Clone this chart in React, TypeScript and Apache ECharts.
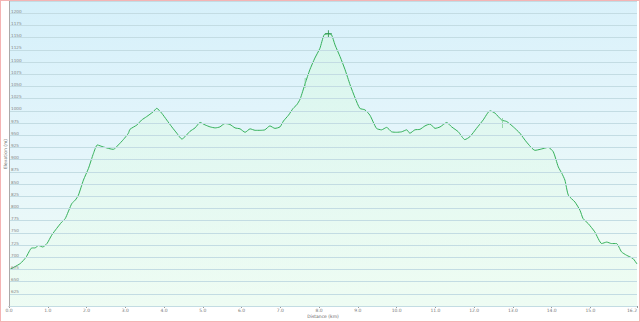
import React, { useEffect, useRef } from "react";
import * as echarts from "echarts";

const distanceKm = [
  0.0, 0.29, 0.44, 0.59, 0.67, 0.76, 0.87, 0.98, 1.1, 1.23, 1.36, 1.45, 1.62, 1.71, 1.79, 1.92,
  2.05, 2.18, 2.28, 2.43, 2.69, 2.82, 2.95, 3.08, 3.12, 3.3, 3.42, 3.55, 3.72, 3.81, 3.94, 4.07,
  4.2, 4.33, 4.46, 4.54, 4.67, 4.8, 4.93, 5.06, 5.19, 5.32, 5.44, 5.57, 5.7, 5.83, 5.96, 6.09,
  6.22, 6.35, 6.48, 6.6, 6.73, 6.86, 6.99, 7.08, 7.21, 7.33, 7.42, 7.51, 7.64, 7.76, 7.89, 8.02,
  8.13, 8.24, 8.32, 8.41, 8.54, 8.67, 8.8, 8.93, 9.05, 9.18, 9.31, 9.48, 9.61, 9.74, 9.87, 10.0,
  10.13, 10.26, 10.34, 10.47, 10.6, 10.73, 10.86, 10.99, 11.12, 11.29, 11.42, 11.59, 11.76, 11.89,
  12.06, 12.23, 12.41, 12.54, 12.71, 12.84, 13.01, 13.18, 13.35, 13.57, 13.7, 13.91, 14.04, 14.17,
  14.26, 14.34, 14.43, 14.6, 14.73, 14.81, 14.94, 15.11, 15.29, 15.42, 15.54, 15.67, 15.8, 15.93,
  16.1, 16.2,
];

const elevationM = [
  674, 687, 700, 719, 719, 724, 721, 728, 745, 759, 772, 779, 810, 817, 827, 858,
  882, 913, 930, 926, 921, 930, 941, 954, 962, 971, 981, 988, 998, 1005, 995, 981,
  967, 954, 942, 947, 958, 965, 976, 971, 967, 965, 967, 974, 972, 965, 963, 956,
  963, 960, 960, 961, 969, 964, 967, 979, 991, 1005, 1012, 1024, 1056, 1084, 1108, 1128,
  1156, 1158, 1156, 1135, 1111, 1084, 1053, 1026, 1005, 1002, 991, 964, 961, 966, 957, 956,
  957, 961, 954, 961, 962, 969, 973, 964, 967, 976, 967, 957, 941, 947,
  964, 981, 1000, 995, 981, 978, 967, 954, 936, 919, 921, 925, 916, 885,
  872, 858, 827, 813, 796, 779, 769, 752, 728, 731, 728, 728, 711, 704,
  697, 686,
];

const xTickValues = [0, 1, 2, 3, 4, 5, 6, 7, 8, 9, 10, 11, 12, 13, 14, 15, 16.2];

const xAxisTitle = "Distance (km)";
const yAxisTitle = "Elevation (m)";

const markerPeak = [[8.24, 1158]];
const markerTicks = [[12.73, 975], [7.64, 1057]];

export default function App() {
  const ref = useRef<HTMLDivElement>(null);

  useEffect(() => {
    document.body.style.margin = "0";
    if (!ref.current) return;
    const chart = echarts.init(ref.current, undefined, { renderer: "svg" });
    const font = "DejaVu Sans";
    chart.setOption({
      animation: false,
      backgroundColor: "#ffffff",
      grid: {
        left: 9,
        right: 3,
        top: 1,
        bottom: 16,
        outerBoundsMode: "none",
        containLabel: false,
        show: true,
        borderWidth: 0,
        backgroundColor: new echarts.graphic.LinearGradient(0, 0, 0.15, 1, [
          { offset: 0, color: "#d5f0fa" },
          { offset: 0.5, color: "#e4f5fb" },
          { offset: 1, color: "#f1fcf5" },
        ]),
      },
      graphic: [
        {
          type: "text",
          x: 323,
          y: 316,
          style: {
            text: xAxisTitle,
            fontSize: 4.5,
            fill: "#666",
            fontFamily: font,
            align: "center",
            verticalAlign: "middle",
          },
        },
        {
          type: "text",
          x: 5,
          y: 154,
          rotation: Math.PI / 2,
          style: {
            text: yAxisTitle,
            fontSize: 4.5,
            fill: "#666",
            fontFamily: font,
            align: "center",
            verticalAlign: "middle",
          },
        },
      ],
      xAxis: {
        type: "value",
        min: 0,
        max: 16.2,
        interval: 1,
        axisLine: { show: true, lineStyle: { color: "#999", width: 1 } },
        axisTick: { show: true, length: 2, lineStyle: { color: "#999" }, customValues: xTickValues },
        axisLabel: {
          fontSize: 4.5,
          color: "#777",
          fontFamily: font,
          margin: 2,
          customValues: xTickValues,
          alignMaxLabel: "right",
          formatter: (v: number) => v.toFixed(1),
        },
        splitLine: { show: false },
      },
      yAxis: {
        type: "value",
        min: 600,
        max: 1225,
        interval: 25,
        z: 5,
        axisLine: { show: true, lineStyle: { color: "#aaa", width: 1 } },
        axisTick: { show: false },
        axisLabel: {
          inside: true,
          align: "left",
          fontSize: 4.2,
          color: "#888",
          fontFamily: font,
          margin: 2,
          verticalAlign: "bottom",
          formatter: (v: number) => (v === 600 || v === 1225 ? "" : String(v)),
        },
        splitLine: { show: true, lineStyle: { color: "#c3dce3", width: 1 } },
      },
      series: [
        {
          type: "line",
          data: distanceKm.map((d, i) => [d, elevationM[i]]),
          symbol: "none",
          smooth: 0.2,
          lineStyle: { color: "#35b05a", width: 1 },
          areaStyle: {
            color: new echarts.graphic.LinearGradient(0, 0, 0, 1, [
              { offset: 0, color: "rgba(214,248,228,0.8)" },
              { offset: 1, color: "rgba(236,252,242,0.85)" },
            ]),
          },
          z: 2,
        },
        {
          type: "scatter",
          data: markerPeak,
          symbol: "path://M3,0h1v7h-1z M0,3h7v1h-7z",
          symbolSize: 7,
          itemStyle: { color: "#1d8c3e" },
          z: 4,
        },
        {
          type: "scatter",
          data: markerTicks,
          symbol: "rect",
          symbolSize: [1, 10],
          itemStyle: { color: "#7fcf96" },
          z: 3,
        },
      ],
    });
    return () => chart.dispose();
  }, []);

  return (
    <div style={{ position: "relative", width: 640, height: 322 }}>
      <div ref={ref} style={{ width: 640, height: 322 }} />
      <div
        style={{
          position: "absolute",
          left: 0,
          top: 0,
          width: 640,
          height: 322,
          boxSizing: "border-box",
          border: "1px solid #f4b4b4",
          pointerEvents: "none",
        }}
      />
    </div>
  );
}
